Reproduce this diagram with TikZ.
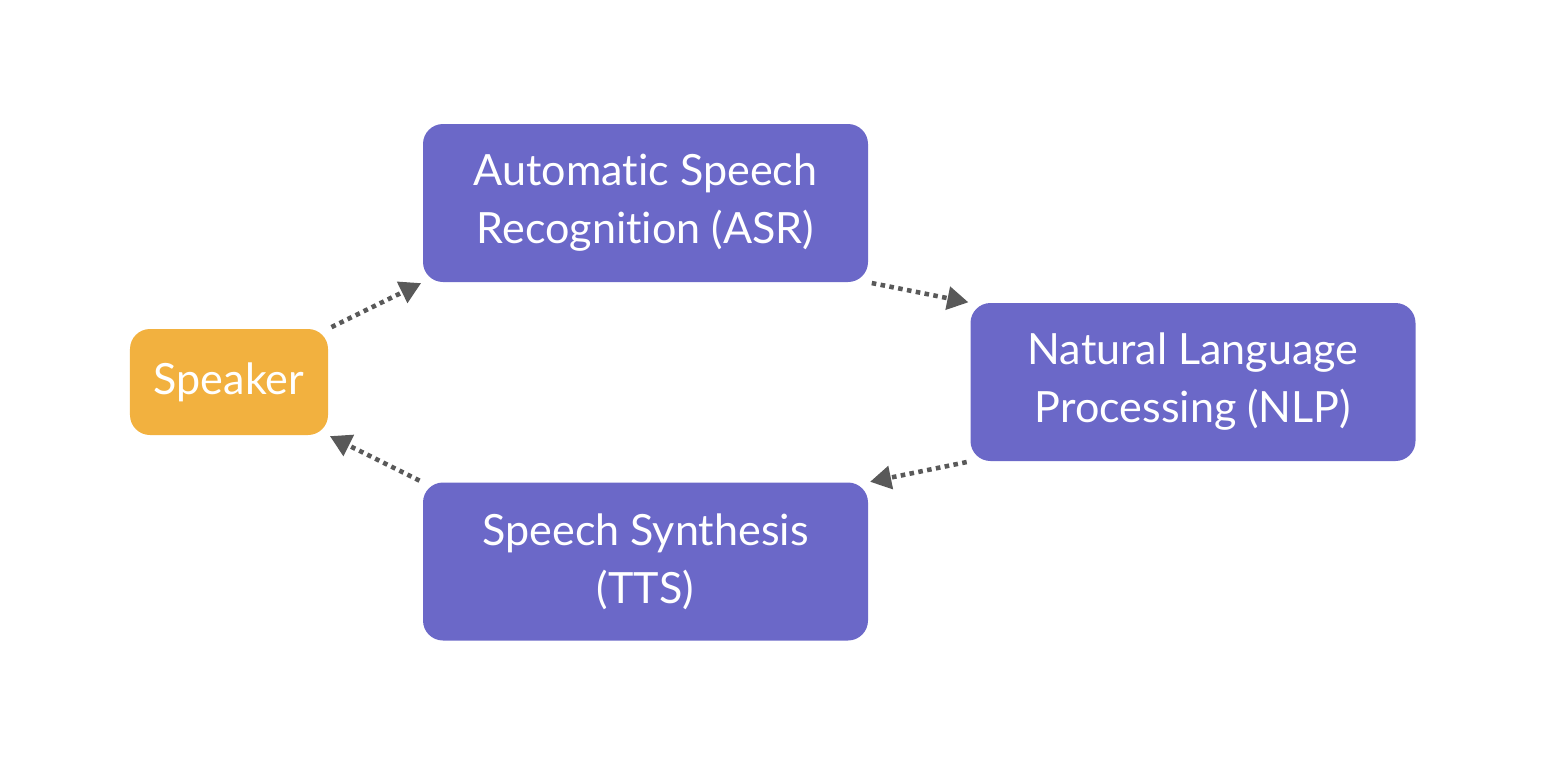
\documentclass[tikz,border=0pt]{standalone}
\usepackage{fontspec}
\setmainfont{Lato}[Ligatures=NoCommon]
\usetikzlibrary{arrows.meta}
\definecolor{boxpurple}{HTML}{6B68C8}
\definecolor{boxorange}{HTML}{F2B13F}
\definecolor{linkgray}{HTML}{595959}
\begin{document}
\begin{tikzpicture}[scale=0.2,
    stage/.style={fill=boxpurple, rounded corners=0.4cm, minimum width=8.9cm, minimum height=3.16cm, text=white, align=center, font=\fontsize{24.5}{33}\selectfont},
    link/.style={linkgray, line width=2.6pt, dash pattern=on 2.6pt off 2.5pt, -{Triangle[length=12pt,width=13pt]}, shorten <=2pt, shorten >=1pt}]
    \useasboundingbox (0,0) rectangle (156.6,-77.4);
    \node [stage, fill=boxorange, minimum width=3.96cm, minimum height=2.12cm] (speaker) at (22.9,-38.2) {Speaker};
    \node [stage] (asr) at (64.55,-20.3) {Automatic Speech\\Recognition (ASR)};
    \node [stage] (nlp) at (119.3,-38.2) {Natural Language\\Processing (NLP)};
    \node [stage] (tts) at (64.55,-56.15) {Speech Synthesis\\(TTS)};
    \draw [link] (speaker.north east) -- (asr.south west);
    \draw [link] (asr.south east) -- (nlp.north west);
    \draw [link] (nlp.south west) -- (tts.north east);
    \draw [link] (tts.north west) -- (speaker.south east);
\end{tikzpicture}
\end{document}
